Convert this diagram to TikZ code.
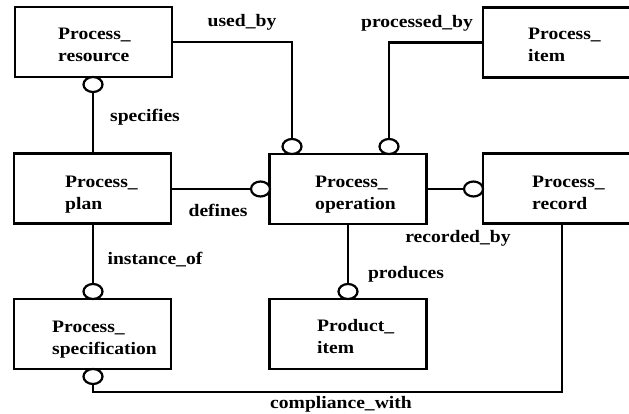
\documentclass[tikz,border=0pt]{standalone}
\usepackage{fontspec}
\setmainfont{Liberation Serif}[FakeStretch=1.12]
\usetikzlibrary{shapes.geometric}
\begin{document}
\begin{tikzpicture}[x=1pt,y=-1pt,
  entity/.style={draw,line width=2.5pt,minimum width=157pt,minimum height=70pt,inner sep=0pt,outer sep=0pt},
  etext/.style={anchor=north west,inner sep=0pt,align=left,font=\fontsize{17.5}{22}\selectfont\bfseries},
  rel/.style={anchor=base,inner sep=0pt,font=\fontsize{17.5}{22}\selectfont\bfseries},
  opt/.style={draw,fill=white,ellipse,line width=2.2pt,minimum width=19pt,minimum height=15pt,inner sep=0pt,outer sep=0pt},
  conn/.style={line width=2.2pt}]
\useasboundingbox (0,0) rectangle (629,414);
\fill[white] (0,0) rectangle (629,414);
% entities
\node[entity] (res) at (93.5,42) {};
\node[entity] (plan) at (92.5,188.5) {};
\node[entity] (spec) at (92.5,334) {};
\node[entity] (op) at (348,189) {};
\node[entity] (rec) at (561.5,188.5) {};
\node[entity] (item) at (561.5,42.5) {};
\node[entity] (prod) at (348,334) {};
% entity texts
\node[etext] (tres) at (58,27.5) {Process\_\\resource};
\node[etext] (tplan) at (65,175.5) {Process\_\\plan};
\node[etext] (tspec) at (52,320.5) {Process\_\\specification};
\node[etext] (top) at (315,175.5) {Process\_\\operation};
\node[etext] (trec) at (532,175.5) {Process\_\\record};
\node[etext] (titem) at (528,27.5) {Process\_\\item};
\node[etext] (tprod) at (317,319.5) {Product\_\\item};
% optionality circles
\node[opt] (c1) at (292,146.5) {};
\node[opt] (c2) at (389,146.5) {};
\node[opt] (c3) at (93,84.5) {};
\node[opt] (c4) at (260.5,189) {};
\node[opt] (c5) at (473.5,189) {};
\node[opt] (c6) at (93,291.5) {};
\node[opt] (c7) at (348,291.5) {};
\node[opt] (c8) at (93,376.5) {};
\coordinate (corner) at (562,392);
% connectors
\draw[conn] (res.east) -| (c1.north);
\draw[conn] (item.west) -| (c2.north);
\draw[conn] (c3.south) -- (c3.south |- plan.north);
\draw[conn] (plan.east |- c4.west) -- (c4.west);
\draw[conn] (op.east |- c5.west) -- (c5.west);
\draw[conn] (c6.north |- plan.south) -- (c6.north);
\draw[conn] (op.south) -- (c7.north);
\draw[conn] (c8.south) |- (corner) -- (corner |- rec.south);
% relationship labels
\node[rel] (lused) at (242,27) {used\_by};
\node[rel] (lproc) at (417,28) {processed\_by};
\node[rel] (lspec) at (145,122) {specifies};
\node[rel] (ldef) at (218,217) {defines};
\node[rel] (linst) at (155,264) {instance\_of};
\node[rel] (lrec) at (458,243) {recorded\_by};
\node[rel] (lprod) at (406,278) {produces};
\node[rel] (lcomp) at (341,408) {compliance\_with};
\end{tikzpicture}
\end{document}
